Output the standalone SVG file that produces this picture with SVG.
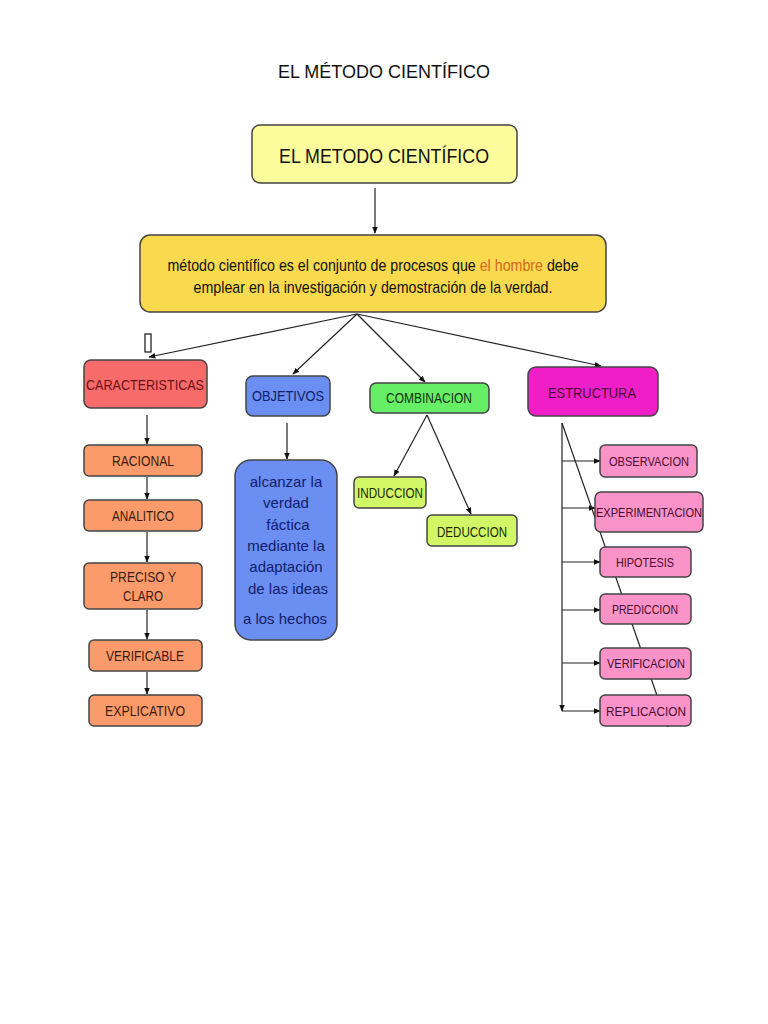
<svg xmlns="http://www.w3.org/2000/svg" width="768" height="1024" viewBox="0 0 768 1024">
<defs>
<marker id="ah" viewBox="0 0 10 10" refX="9" refY="5" markerWidth="7" markerHeight="7" orient="auto" markerUnits="userSpaceOnUse"><path d="M0,1 L10,5 L0,9 z" fill="#111"/></marker>
<style>
.t{font-family:"Liberation Sans",Arial,sans-serif;text-anchor:middle}
.c{stroke:#222;stroke-width:1.2;fill:none}
.box{stroke:#444;stroke-width:1.5}
</style>
</defs>
<rect width="768" height="1024" fill="#fff"/>
<text x="384" y="78" class="t" font-size="18" fill="#111" font-family="'Open Sans',sans-serif">EL MÉTODO CIENTÍFICO</text>

<g id="connectors">
<line class="c" x1="375" y1="188" x2="375" y2="233" marker-end="url(#ah)"/>
<line class="c" x1="357" y1="314" x2="149" y2="357" marker-end="url(#ah)"/>
<line class="c" x1="357" y1="314" x2="293" y2="374" marker-end="url(#ah)"/>
<line class="c" x1="357" y1="314" x2="425" y2="382" marker-end="url(#ah)"/>
<line class="c" x1="357" y1="314" x2="601" y2="366" marker-end="url(#ah)"/>
<rect x="145" y="334" width="6" height="18" fill="#fff" stroke="#111" stroke-width="1.2"/>
<line class="c" x1="147" y1="415" x2="147" y2="444" marker-end="url(#ah)"/>
<line class="c" x1="147" y1="477" x2="147" y2="499" marker-end="url(#ah)"/>
<line class="c" x1="147" y1="532" x2="147" y2="562" marker-end="url(#ah)"/>
<line class="c" x1="147" y1="610" x2="147" y2="639" marker-end="url(#ah)"/>
<line class="c" x1="147" y1="672" x2="147" y2="694" marker-end="url(#ah)"/>
<line class="c" x1="287" y1="423" x2="287" y2="459" marker-end="url(#ah)"/>
<line class="c" x1="427" y1="415" x2="394" y2="476" marker-end="url(#ah)"/>
<line class="c" x1="427" y1="415" x2="471" y2="514" marker-end="url(#ah)"/>
<line class="c" x1="562" y1="423" x2="562" y2="711" marker-end="url(#ah)"/>
<line class="c" x1="562" y1="461" x2="600" y2="461" marker-end="url(#ah)"/>
<line class="c" x1="562" y1="508" x2="595" y2="508" marker-end="url(#ah)"/>
<line class="c" x1="562" y1="562" x2="600" y2="562" marker-end="url(#ah)"/>
<line class="c" x1="562" y1="610" x2="600" y2="610" marker-end="url(#ah)"/>
<line class="c" x1="562" y1="663" x2="600" y2="663" marker-end="url(#ah)"/>
<line class="c" x1="562" y1="711" x2="600" y2="711" marker-end="url(#ah)"/>
<line class="c" x1="562" y1="423" x2="668" y2="727"/>
</g>

<g id="n-title">
<rect class="box" x="252" y="125" width="265" height="58" rx="8" fill="#fdfc9c"/>
<text x="384" y="163" class="t" font-size="21" fill="#111" textLength="210" lengthAdjust="spacingAndGlyphs">EL METODO CIENTÍFICO</text>
</g>
<g id="n-def">
<rect class="box" x="140" y="235" width="466" height="77" rx="10" fill="#f9d94e"/>
<g transform="translate(373,0) scale(0.89,1)">
<text x="0" y="271" class="t" font-size="16" fill="#111">método científico es el  conjunto de procesos que <tspan fill="#d2691e">el hombre</tspan> debe</text>
<text x="0" y="293" class="t" font-size="16" fill="#111">emplear en la investigación y demostración de la verdad.</text>
</g>
</g>
<g id="n-caract">
<rect class="box" x="84" y="360" width="123" height="48" rx="7" fill="#f86b6b" stroke="#8b2020"/>
<text x="145" y="390" class="t" font-size="15" fill="#6b1010" textLength="118" lengthAdjust="spacingAndGlyphs">CARACTERISTICAS</text>
</g>
<g id="n-obj">
<rect class="box" x="246" y="376" width="84" height="40" rx="7" fill="#6b8ef2" stroke="#223366"/>
<text x="288" y="401" class="t" font-size="14" fill="#10206b" textLength="72" lengthAdjust="spacingAndGlyphs">OBJETIVOS</text>
</g>
<g id="n-comb">
<rect class="box" x="370" y="383" width="119" height="30" rx="6" fill="#66ef66" stroke="#2a6a2a"/>
<text x="429" y="403" class="t" font-size="14" fill="#113311" textLength="86" lengthAdjust="spacingAndGlyphs">COMBINACION</text>
</g>
<g id="n-estr">
<rect class="box" x="528" y="367" width="130" height="49" rx="8" fill="#f01ec6" stroke="#7a1060"/>
<text x="592" y="398" class="t" font-size="15" fill="#4a0a3a" textLength="88" lengthAdjust="spacingAndGlyphs">ESTRUCTURA</text>
</g>
<g id="n-racional">
<rect class="box" x="84" y="445" width="118" height="31" rx="5" fill="#fb9b6b"/>
<text x="143" y="466" class="t" font-size="14" fill="#3a1a0a" textLength="62" lengthAdjust="spacingAndGlyphs">RACIONAL</text>
</g>
<g id="n-analitico">
<rect class="box" x="84" y="500" width="118" height="31" rx="5" fill="#fb9b6b"/>
<text x="143" y="521" class="t" font-size="14" fill="#3a1a0a" textLength="62" lengthAdjust="spacingAndGlyphs">ANALITICO</text>
</g>
<g id="n-preciso">
<rect class="box" x="84" y="563" width="118" height="46" rx="5" fill="#fb9b6b"/>
<text x="143" y="582" class="t" font-size="14" fill="#3a1a0a" textLength="66" lengthAdjust="spacingAndGlyphs">PRECISO Y</text>
<text x="143" y="601" class="t" font-size="14" fill="#3a1a0a" textLength="40" lengthAdjust="spacingAndGlyphs">CLARO</text>
</g>
<g id="n-verificable">
<rect class="box" x="89" y="640" width="113" height="31" rx="5" fill="#fb9b6b"/>
<text x="145" y="661" class="t" font-size="14" fill="#3a1a0a" textLength="78" lengthAdjust="spacingAndGlyphs">VERIFICABLE</text>
</g>
<g id="n-explicativo">
<rect class="box" x="89" y="695" width="113" height="31" rx="5" fill="#fb9b6b"/>
<text x="145" y="716" class="t" font-size="14" fill="#3a1a0a" textLength="80" lengthAdjust="spacingAndGlyphs">EXPLICATIVO</text>
</g>
<g id="n-alcanzar">
<rect class="box" x="235" y="460" width="102" height="180" rx="16" fill="#6b8ef2" stroke="#223366"/>
<g class="t" font-size="15" fill="#10206b">
<text x="286" y="487">alcanzar la</text>
<text x="286" y="508">verdad</text>
<text x="288" y="530">fáctica</text>
<text x="286" y="551">mediante la</text>
<text x="286" y="572">adaptación</text>
<text x="288" y="594">de las ideas</text>
<text x="285" y="624">a los hechos</text>
</g>
</g>
<g id="n-induccion">
<rect class="box" x="354" y="477" width="72" height="31" rx="5" fill="#d2f766" stroke="#556622"/>
<text x="390" y="498" class="t" font-size="14" fill="#1a2a0a" textLength="66" lengthAdjust="spacingAndGlyphs">INDUCCION</text>
</g>
<g id="n-deduccion">
<rect class="box" x="427" y="515" width="90" height="31" rx="5" fill="#d2f766" stroke="#556622"/>
<text x="472" y="537" class="t" font-size="14" fill="#1a2a0a" textLength="70" lengthAdjust="spacingAndGlyphs">DEDUCCION</text>
</g>
<g id="n-obs">
<rect class="box" x="600" y="445" width="97" height="32" rx="5" fill="#f993c8" stroke="#7a1050"/>
<text x="649" y="466" class="t" font-size="13" fill="#4a0a30" textLength="80" lengthAdjust="spacingAndGlyphs">OBSERVACION</text>
</g>
<g id="n-exp">
<rect class="box" x="595" y="492" width="108" height="40" rx="6" fill="#f993c8" stroke="#7a1050"/>
<text x="649" y="517" class="t" font-size="13" fill="#4a0a30" textLength="106" lengthAdjust="spacingAndGlyphs">EXPERIMENTACION</text>
</g>
<g id="n-hip">
<rect class="box" x="600" y="547" width="91" height="30" rx="5" fill="#f993c8" stroke="#7a1050"/>
<text x="645" y="567" class="t" font-size="13" fill="#4a0a30" textLength="58" lengthAdjust="spacingAndGlyphs">HIPOTESIS</text>
</g>
<g id="n-pred">
<rect class="box" x="600" y="594" width="91" height="30" rx="5" fill="#f993c8" stroke="#7a1050"/>
<text x="645" y="614" class="t" font-size="13" fill="#4a0a30" textLength="66" lengthAdjust="spacingAndGlyphs">PREDICCION</text>
</g>
<g id="n-verif">
<rect class="box" x="600" y="648" width="91" height="31" rx="5" fill="#f993c8" stroke="#7a1050"/>
<text x="646" y="668" class="t" font-size="13" fill="#4a0a30" textLength="78" lengthAdjust="spacingAndGlyphs">VERIFICACION</text>
</g>
<g id="n-repl">
<rect class="box" x="600" y="695" width="91" height="31" rx="5" fill="#f993c8" stroke="#7a1050"/>
<text x="646" y="716" class="t" font-size="13" fill="#4a0a30" textLength="80" lengthAdjust="spacingAndGlyphs">REPLICACION</text>
</g>
</svg>
